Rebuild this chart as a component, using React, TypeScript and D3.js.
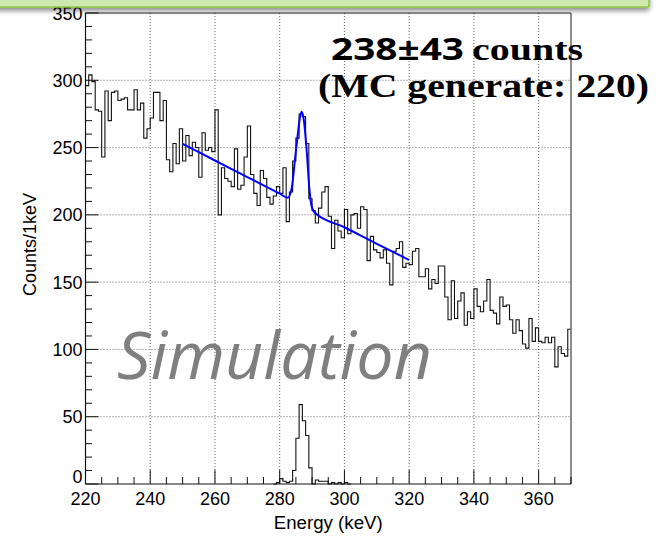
import React from 'react';
import * as d3 from 'd3';

const W = 658;
const H = 536;

// Main spectrum: counts per 1 keV bin, starting at 220 keV
const binStart = 220;
const counts = [
  296, 304, 299, 278, 277, 243, 292, 270, 291, 292,
  285, 286, 287, 278, 278, 293, 278, 283, 257, 264,
  272, 291, 291, 270, 285, 241, 232, 253, 238, 264,
  240, 259, 244, 254, 250, 228, 261, 248, 250, 247,
  278, 200, 235, 227, 225, 221, 249, 219, 222, 243,
  266, 230, 216, 207, 233, 227, 213, 208, 214, 221,
  216, 235, 195, 217, 240, 257, 275, 273, 253, 212,
  203, 194, 205, 217, 221, 199, 175, 196, 188, 183,
  204, 186, 200, 201, 190, 206, 204, 166, 184, 174,
  172, 168, 174, 164, 148, 173, 175, 180, 161, 164,
  163, 173, 175, 154, 154, 160, 145, 152, 149, 162,
  162, 139, 122, 151, 123, 136, 142, 118, 128, 123,
  145, 132, 128, 136, 152, 129, 127, 119, 139, 132,
  133, 122, 112, 122, 114, 104, 101, 123, 106, 116,
  106, 105, 109, 105, 109, 87, 102, 97, 95, 115,
];

// MC signal histogram (generated peak), starting at 278 keV
const signalStart = 278;
const signal = [0, 1, 4, 2, 1, 2, 10, 34, 59, 47, 36, 12, 0, 3, 2, 2, 2, 0, 1, 0, 1, 0, 1, 0];

// Fit curve (linear background + gaussian)
const fitEnergy = [250, 260, 270, 280, 282.5, 283.7, 284.8, 285.5, 286.3, 286.8, 287.5, 288.4, 289.2, 289.9, 290.9, 300, 310, 320];
const fitValue = [252.7, 240.4, 228.1, 215.8, 212.8, 219.7, 243, 258, 273, 276.7, 269.7, 245.7, 218.5, 206, 201.5, 190.8, 178.5, 166.5];

const xTicks = [220, 240, 260, 280, 300, 320, 340, 360];
const yTicks = [0, 50, 100, 150, 200, 250, 300, 350];

const xTitle = 'Energy (keV)';
const yTitle = 'Counts/1keV';
const resultNumber = '238±43';
const resultUnit = 'counts';
const resultLine2 = '(MC generate: 220)';
const watermark = 'Simulation';

const PL = 85.5, PR = 571, PT = 13, PB = 484;

export default function App() {
  const x = d3.scaleLinear().domain([220, 370]).range([PL, PR]);
  const y = d3.scaleLinear().domain([0, 350]).range([PB, PT]);

  const step = d3.line<[number, number]>().x(d => x(d[0])).y(d => y(d[1])).curve(d3.curveStepAfter);
  const mainPts: [number, number][] = counts.map((v, i) => [binStart + i, v] as [number, number]);
  mainPts.push([binStart + counts.length, counts[counts.length - 1]]);
  const sigPts: [number, number][] = signal.map((v, i) => [signalStart + i, v] as [number, number]);
  sigPts.push([signalStart + signal.length, signal[signal.length - 1]]);

  const fitLine = d3.line<number>().x((d, i) => x(fitEnergy[i])).y(d => y(d)).curve(d3.curveMonotoneX);

  const xMinor = d3.range(220, 371, 5);
  const yMinor = d3.range(0, 351, 10);
  const font = 'Liberation Sans, Arial, Helvetica, sans-serif';
  const serif = 'Liberation Serif, Times New Roman, serif';

  return (
    <svg width={W} height={H} style={{ position: 'absolute', left: 0, top: 0, background: '#fff' }}>
      <defs>
        <filter id="sh" x="-5%" y="-50%" width="110%" height="250%">
          <feDropShadow dx="0" dy="3" stdDeviation="2.5" floodColor="#000" floodOpacity="0.45" />
        </filter>
      </defs>
      <rect x={0} y={0} width={W} height={H} fill="#fff" />

      {/* grid */}
      <g stroke="#666" strokeWidth={1} strokeDasharray="1,2">
        {xTicks.filter(t => t > 220).map(t => (
          <line key={'gx' + t} x1={x(t)} x2={x(t)} y1={PT} y2={PB} />
        ))}
        {yTicks.filter(t => t > 0 && t < 350).map(t => (
          <line key={'gy' + t} x1={PL} x2={PR} y1={y(t)} y2={y(t)} />
        ))}
      </g>

      {/* watermark */}
      <text x={117} y={379} fontFamily="Open Sans, Lato, sans-serif" fontStyle="italic" fontSize={66}
        fill="#7f7f7f" textLength={315} lengthAdjust="spacingAndGlyphs">
        {watermark}
      </text>

      {/* histograms */}
      <path d={step(mainPts) || ''} fill="none" stroke="#111" strokeWidth={1.1} />
      <path d={step(sigPts) || ''} fill="none" stroke="#111" strokeWidth={1.1} />
      <path d={fitLine(fitValue) || ''} fill="none" stroke="#0000ff" strokeWidth={2} />

      {/* frame */}
      <line x1={PL} x2={PR} y1={PT} y2={PT} stroke="#222" />
      <line x1={PR} x2={PR} y1={PT} y2={PB} stroke="#666" strokeWidth={1.5} />
      <line x1={PL} x2={PR} y1={PB} y2={PB} stroke="#111" strokeWidth={1.2} />
      <line x1={PL} x2={PL} y1={PT} y2={PB} stroke="#111" strokeWidth={1.2} />

      {/* ticks */}
      <g stroke="#111" strokeWidth={1}>
        {xMinor.map(t => (
          <line key={'tx' + t} x1={x(t)} x2={x(t)} y1={PB} y2={PB - (t % 20 === 0 ? 14 : 7)} />
        ))}
        {yMinor.map(t => (
          <line key={'ty' + t} x1={PL} x2={PL + (t % 50 === 0 ? 13 : 6.5)} y1={y(t)} y2={y(t)} />
        ))}
      </g>

      {/* tick labels */}
      <g fontFamily={font} fontSize={18} fill="#000">
        {xTicks.map(t => (
          <text key={'lx' + t} x={x(t)} y={505} textAnchor="middle">{t}</text>
        ))}
        {yTicks.map(t => (
          <text key={'ly' + t} x={PL - 3} y={t === 0 ? y(t) - 1 : y(t) + 6.5} textAnchor="end">{t}</text>
        ))}
        <text x={(PL + PR) / 2} y={529} textAnchor="middle" textLength={109} lengthAdjust="spacingAndGlyphs">{xTitle}</text>
        <text transform={`translate(36,${(PT + PB) / 2 - 4}) rotate(-90)`} textAnchor="middle">{yTitle}</text>
      </g>

      {/* result text */}
      <text x={331} y={60} fontWeight="bold" fontSize={30} fill="#000"
        fontFamily="Noto Sans, DejaVu Sans, sans-serif" textLength={133} lengthAdjust="spacingAndGlyphs">
        {resultNumber}
      </text>
      <text x={472} y={60} fontWeight="bold" fontSize={32} fill="#000"
        fontFamily={serif} textLength={111} lengthAdjust="spacingAndGlyphs">
        {resultUnit}
      </text>
      <text x={318} y={97} fontWeight="bold" fontSize={34} fill="#000" fontFamily={serif}
        textLength={331} lengthAdjust="spacingAndGlyphs">
        {resultLine2}
      </text>

      {/* top green banner */}
      <g filter="url(#sh)">
        <rect x={-4} y={-10} width={653} height={17} rx={2} fill="#cfe8ad" stroke="#8dc640" strokeWidth={1.5} />
      </g>
    </svg>
  );
}
